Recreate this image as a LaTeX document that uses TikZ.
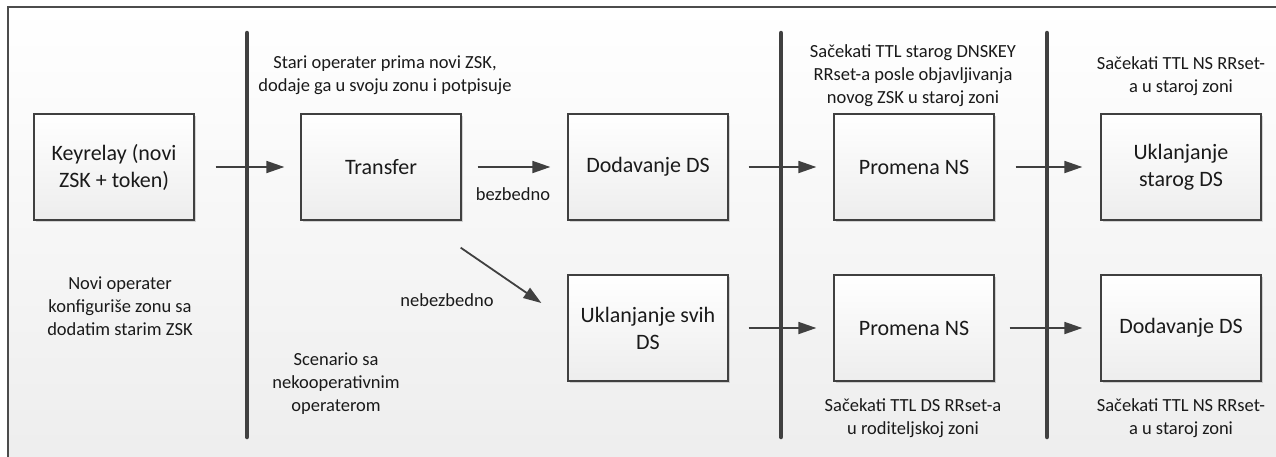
\documentclass[tikz,border=0pt]{standalone}
\usepackage{fontspec}
\setmainfont{Carlito}
\usetikzlibrary{arrows.meta,shadows}
\definecolor{ink}{HTML}{404040}
\definecolor{txt}{HTML}{1A1A1A}
\begin{document}
\begin{tikzpicture}[x=1pt,y=-1pt,
  stepbox/.style={draw=ink, line width=1.3pt, top color=white, bottom color=black!7,
    minimum width=160pt, minimum height=106pt, inner sep=0pt, align=center,
    font=\fontsize{22}{27}\selectfont, text=txt,
    drop shadow={shadow xshift=2pt, shadow yshift=-2pt, opacity=0.15, fill=black}},
  note/.style={align=center, font=\fontsize{18.5}{23}\selectfont, text=txt, inner sep=0pt},
  flow/.style={draw=ink, line width=1.8pt, -{Triangle[length=18pt,width=12pt]}},
  phase/.style={draw=ink, line width=4.5pt, line cap=round}]
\useasboundingbox (0,0) rectangle (1276,456);
\clip (0,0) rectangle (1276,456);
% page background and frame
\fill[white] (0,0) rectangle (1276,456);
\fill[top color=white, bottom color=black!7] (8,7) rectangle (1290,470);
\draw[black!70, line width=2pt] (8,7) rectangle (1290,470);

% phase separators
\draw[phase] (247,33) -- (247,437);
\draw[phase] (781,33) -- (781,437);
\draw[phase] (1047,33) -- (1047,437);

% steps
\node[stepbox] (kr)  at (114,167)  {Keyrelay (novi\\ZSK + token)};
\node[stepbox] (tr)  at (381,167)  {Transfer};
\node[stepbox] (dd)  at (648,167)  {Dodavanje DS};
\node[stepbox] (pn1) at (914,167)  {Promena NS};
\node[stepbox] (us)  at (1181,167) {Uklanjanje\\starog DS};
\node[stepbox] (usv) at (648,328)  {Uklanjanje svih\\DS};
\node[stepbox] (pn2) at (914,328)  {Promena NS};
\node[stepbox] (dd2) at (1181,328) {Dodavanje DS};

% transitions
\draw[flow] ([xshift=21pt]kr.east)  -- ([xshift=-16pt]tr.west);
\draw[flow] ([xshift=16pt]tr.east)  -- ([xshift=-17pt]dd.west);
\draw[flow] ([xshift=20pt]dd.east)  -- ([xshift=-17pt]pn1.west);
\draw[flow] ([xshift=21pt]pn1.east) -- ([xshift=-18pt]us.west);
\draw[flow] ([xshift=20pt]usv.east) -- ([xshift=-17pt]pn2.west);
\draw[flow] ([xshift=15pt]pn2.east) -- ([xshift=-18pt]dd2.west);
\draw[flow] ([shift={(-1pt,-27pt)}]tr.south east) -- ([shift={(-26pt,25pt)}]usv.west);

% annotations
\node[note] (l1) at (385,75)   {Stari operater prima novi ZSK,\\dodaje ga u svoju zonu i potpisuje};
\node[note] (l2) at (913,76)   {Sačekati TTL starog DNSKEY\\RRset-a posle objavljivanja\\novog ZSK u staroj zoni};
\node[note] (l3) at (1181,76)  {Sačekati TTL NS RRset-\\a u staroj zoni};
\node[note] (l4) at (913,418)  {Sačekati TTL DS RRset-a\\u roditeljskoj zoni};
\node[note] (l5) at (1181,418) {Sačekati TTL NS RRset-\\a u staroj zoni};
\node[note] (l6) at (120,306)  {Novi operater\\konfiguriše zonu sa\\dodatim starim ZSK};
\node[note] (l7) at (336,384)  {Scenario sa\\nekooperativnim\\operaterom};
\node[note] (l8) at (513,194)  {bezbedno};
\node[note] (l9) at (447,300)  {nebezbedno};
\end{tikzpicture}
\end{document}
